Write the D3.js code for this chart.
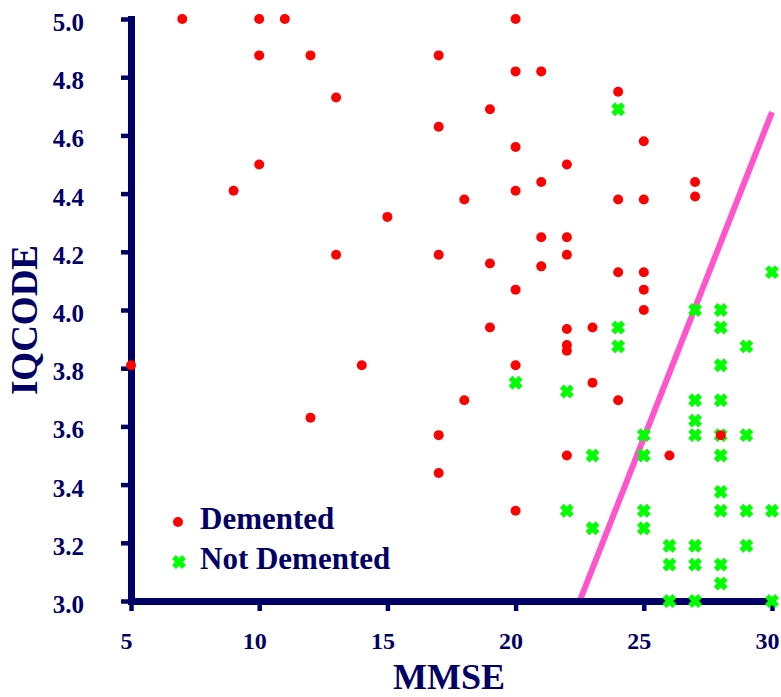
<!DOCTYPE html>
<html>
<head>
<meta charset="utf-8">
<script src="https://cdn.jsdelivr.net/npm/d3@7"></script>
<style>
  html, body { margin: 0; padding: 0; background: #ffffff; }
  svg { display: block; }
  text { font-family: "Liberation Serif", "Times New Roman", "DejaVu Serif", serif; font-weight: bold; fill: #000066; }
</style>
</head>
<body>
<script>
// ---- data ----
const dementedMMSE = [7, 10, 11, 20, 10, 12, 17, 20, 21, 24, 13, 19, 17, 25, 20, 10, 22, 21, 27, 9, 20, 27, 18, 24, 25, 15, 21, 22, 13, 17, 22, 19, 21, 24, 25, 20, 25, 25, 19, 22, 23, 22, 22, 5, 14, 20, 23, 18, 24, 12, 17, 28, 22, 26, 17, 20];
const dementedIQ   = [5.0, 5.0, 5.0, 5.0, 4.875, 4.875, 4.875, 4.82, 4.82, 4.75, 4.73, 4.69, 4.63, 4.58, 4.56, 4.5, 4.5, 4.44, 4.44, 4.41, 4.41, 4.39, 4.38, 4.38, 4.38, 4.32, 4.25, 4.25, 4.19, 4.19, 4.19, 4.16, 4.15, 4.13, 4.13, 4.07, 4.07, 4.0, 3.94, 3.935, 3.94, 3.88, 3.86, 3.81, 3.81, 3.81, 3.75, 3.69, 3.69, 3.63, 3.57, 3.57, 3.5, 3.5, 3.44, 3.31];
const notDementedMMSE = [24, 30, 27, 28, 24, 28, 24, 29, 28, 20, 22, 27, 28, 27, 25, 27, 28, 29, 23, 25, 28, 28, 22, 25, 28, 29, 30, 23, 25, 26, 27, 29, 26, 27, 28, 28, 26, 27, 30];
const notDementedIQ   = [4.69, 4.13, 4.0, 4.0, 3.94, 3.94, 3.875, 3.875, 3.81, 3.75, 3.72, 3.69, 3.69, 3.62, 3.57, 3.57, 3.57, 3.57, 3.5, 3.5, 3.5, 3.375, 3.31, 3.31, 3.31, 3.31, 3.31, 3.25, 3.25, 3.19, 3.19, 3.19, 3.125, 3.125, 3.125, 3.06, 3.0, 3.0, 3.0];
const lineMMSE = [22.5, 30];
const lineIQ   = [3.0, 4.68];
const xTicks = [5, 10, 15, 20, 25, 30];
const yTicks = [3.0, 3.2, 3.4, 3.6, 3.8, 4.0, 4.2, 4.4, 4.6, 4.8, 5.0];
const seriesNames = ["Demented", "Not Demented"];
const xTitle = "MMSE";
const yTitle = "IQCODE";

// ---- chart ----
const W = 781, H = 697;
const navy = "#000066", red = "#ff0000", green = "#00ff00", pink = "#ff55cc";
const svg = d3.select("body").append("svg").attr("width", W).attr("height", H);

const x = d3.scaleLinear().domain([5, 30]).range([131, 772]);
const y = d3.scaleLinear().domain([3, 5]).range([601, 19]);

// discriminant line
svg.append("path")
  .datum(lineMMSE.map((m, i) => [m, lineIQ[i]]))
  .attr("d", d3.line().x(d => x(d[0])).y(d => y(d[1])))
  .attr("fill", "none").attr("stroke", pink).attr("stroke-width", 6);

// axes
const yAxis = svg.append("g").attr("transform", `translate(${x(5)},0)`)
  .call(d3.axisLeft(y).tickValues(yTicks).tickFormat(d3.format(".1f"))
    .tickSizeInner(10).tickSizeOuter(0).tickPadding(37));
const xAxis = svg.append("g").attr("transform", `translate(0,${y(3)})`)
  .call(d3.axisBottom(x).tickValues(xTicks).tickFormat(d3.format("d"))
    .tickSizeInner(10).tickSizeOuter(0).tickPadding(21));

[yAxis, xAxis].forEach(g => {
  g.select(".domain").attr("stroke", navy).attr("stroke-width", 7).attr("stroke-linecap", "square");
  g.selectAll(".tick line").attr("stroke", navy).attr("stroke-width", 4.5);
  g.attr("font-family", null).attr("font-size", null);
});
yAxis.selectAll(".tick text").attr("fill", navy).style("font-size", "25px").attr("dy", "11.5px");
xAxis.selectAll(".tick text").attr("fill", navy).style("font-size", "24px").attr("dx", "-5px");

// axis titles
svg.append("text").attr("x", 449).attr("y", 689).attr("text-anchor", "middle")
  .style("font-size", "36px").text(xTitle);
svg.append("text").attr("transform", "translate(37,320) rotate(-90)").attr("text-anchor", "middle")
  .style("font-size", "37px").text(yTitle);

// markers
const xPath = "M-5,-5L5,5M-5,5L5,-5";
svg.append("g").selectAll("path")
  .data(notDementedMMSE.map((m, i) => [m, notDementedIQ[i]]))
  .join("path")
  .attr("transform", d => `translate(${x(d[0])},${y(d[1])})`)
  .attr("d", xPath).attr("stroke", green).attr("stroke-width", 5.5).attr("fill", "none");

svg.append("g").selectAll("circle")
  .data(dementedMMSE.map((m, i) => [m, dementedIQ[i]]))
  .join("circle")
  .attr("cx", d => x(d[0])).attr("cy", d => y(d[1])).attr("r", 5).attr("fill", red);

// legend
const legend = svg.append("g");
legend.append("circle").attr("cx", 178).attr("cy", 522).attr("r", 5).attr("fill", red);
legend.append("path").attr("transform", "translate(179,562)").attr("d", xPath)
  .attr("stroke", green).attr("stroke-width", 5.5).attr("fill", "none");
legend.append("text").attr("x", 200).attr("y", 529).style("font-size", "31px").text(seriesNames[0]);
legend.append("text").attr("x", 200).attr("y", 569).style("font-size", "31px").text(seriesNames[1]);
</script>
</body>
</html>
